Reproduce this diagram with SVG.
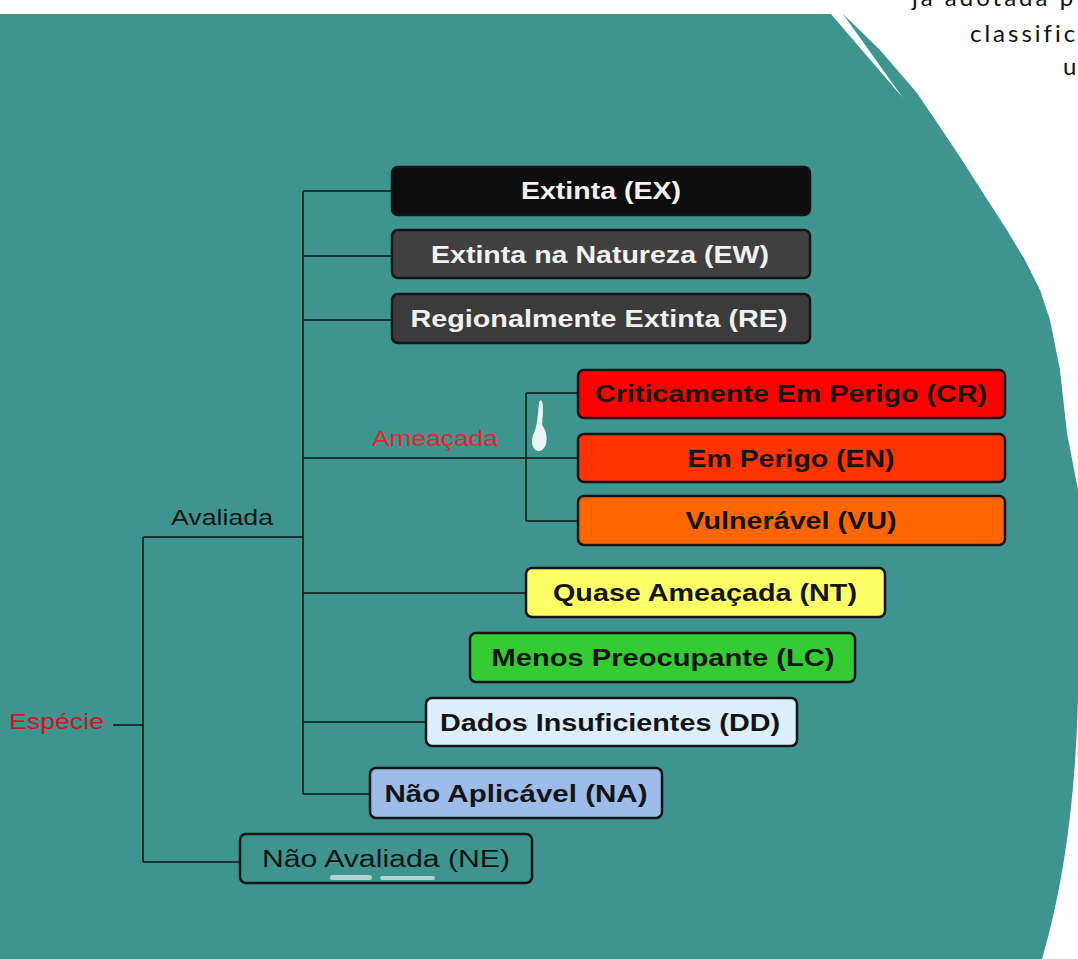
<svg xmlns="http://www.w3.org/2000/svg" width="1078" height="959" viewBox="0 0 1078 959">
<style>
.box{stroke:#141414;stroke-width:2.5}
.lbl{font-family:"Liberation Sans",Arial,sans-serif;font-weight:bold;font-size:23px;text-anchor:middle}
.w{fill:#f2f2f2}
.d{fill:#141414}
.conn{fill:none;stroke:#141414;stroke-width:1.6}
.side{font-family:"Liberation Sans",Arial,sans-serif;font-size:22px}
.top{font-family:Lato,"Noto Sans",sans-serif;font-size:24px;fill:#111111;letter-spacing:3px}
</style>
<rect x="0" y="0" width="1078" height="959" fill="#ffffff"/>
<path d="M0,14 H831 L903,98 L843,14 L880,50 L917,93 L940,127 L962,160 L983,193 L1005,227 L1025,260 L1040,290 L1050,320 L1060,370 L1067,433 L1078,490 L1078,700 Q1074,850 1042,959 L0,959 Z" fill="#3e9590"/>
<g id="toptext">
<text class="top" x="912" y="6">já adotada p</text>
<text class="top" x="970" y="42">classific</text>
<text class="top" x="1063" y="75">u</text>
</g>
<g id="connectors">
<path class="conn" d="M113,725 H143 M143,537 V862 M143,537 H303 M143,862 H240 M303,191 V794 M303,191 H392 M303,256 H392 M303,320 H392 M303,458 H578 M526,393 V521 M526,393 H578 M526,521 H578 M303,593 H526 M303,722 H426 M303,794 H370"/>
</g>
<g id="artifacts" fill="#ffffff">
<path d="M541,400 C544,402 543,415 542,425 C548,432 549,448 540,451 C532,452 530,440 534,433 C537,427 538,414 539,402 Z" opacity="0.9"/>
<rect x="330" y="875" width="42" height="5" rx="2.5" opacity="0.6"/>
<rect x="380" y="876" width="55" height="4" rx="2" opacity="0.6"/>
</g>
<g id="label-especie"><text class="side" x="9" y="729" fill="#d4141c" textLength="95" lengthAdjust="spacingAndGlyphs">Espécie</text></g>
<g id="label-avaliada"><text class="side" x="171" y="525" fill="#141414" textLength="102" lengthAdjust="spacingAndGlyphs">Avaliada</text></g>
<g id="label-ameacada"><text class="side" x="372" y="446" fill="#e8232b" textLength="126" lengthAdjust="spacingAndGlyphs">Ameaçada</text></g>
<g id="ex"><rect class="box" x="392" y="167" width="418" height="48" rx="6" fill="#0d0d0d"/><text class="lbl w" x="601" y="199" textLength="160" lengthAdjust="spacingAndGlyphs">Extinta (EX)</text></g>
<g id="ew"><rect class="box" x="392" y="230" width="418" height="48" rx="6" fill="#404040"/><text class="lbl w" x="600" y="263" textLength="338" lengthAdjust="spacingAndGlyphs">Extinta na Natureza (EW)</text></g>
<g id="re"><rect class="box" x="392" y="294" width="418" height="49" rx="6" fill="#3b3b3b"/><text class="lbl w" x="599" y="327" textLength="377" lengthAdjust="spacingAndGlyphs">Regionalmente Extinta (RE)</text></g>
<g id="cr"><rect class="box" x="578" y="370" width="427" height="48" rx="6" fill="#ff0000"/><text class="lbl d" x="791" y="402" textLength="392" lengthAdjust="spacingAndGlyphs">Criticamente Em Perigo (CR)</text></g>
<g id="en"><rect class="box" x="578" y="434" width="427" height="48" rx="6" fill="#ff3300"/><text class="lbl d" x="791" y="467" textLength="207" lengthAdjust="spacingAndGlyphs">Em Perigo (EN)</text></g>
<g id="vu"><rect class="box" x="578" y="496" width="427" height="49" rx="6" fill="#ff6600"/><text class="lbl d" x="791" y="529" textLength="211" lengthAdjust="spacingAndGlyphs">Vulnerável (VU)</text></g>
<g id="nt"><rect class="box" x="526" y="568" width="359" height="49" rx="6" fill="#ffff66"/><text class="lbl d" x="705" y="601" textLength="304" lengthAdjust="spacingAndGlyphs">Quase Ameaçada (NT)</text></g>
<g id="lc"><rect class="box" x="470" y="633" width="385" height="49" rx="6" fill="#33cc33"/><text class="lbl d" x="663" y="666" textLength="343" lengthAdjust="spacingAndGlyphs">Menos Preocupante (LC)</text></g>
<g id="dd"><rect class="box" x="426" y="698" width="371" height="48" rx="6" fill="#ddeeff"/><text class="lbl d" x="610" y="731" textLength="340" lengthAdjust="spacingAndGlyphs">Dados Insuficientes (DD)</text></g>
<g id="na"><rect class="box" x="370" y="768" width="292" height="50" rx="6" fill="#9dbcea"/><text class="lbl d" x="516" y="802" textLength="263" lengthAdjust="spacingAndGlyphs">Não Aplicável (NA)</text></g>
<g id="ne"><rect class="box" x="240" y="834" width="292" height="49" rx="6" fill="none"/><text class="lbl d" style="font-weight:normal" x="386" y="867" textLength="248" lengthAdjust="spacingAndGlyphs">Não Avaliada (NE)</text></g>
</svg>
